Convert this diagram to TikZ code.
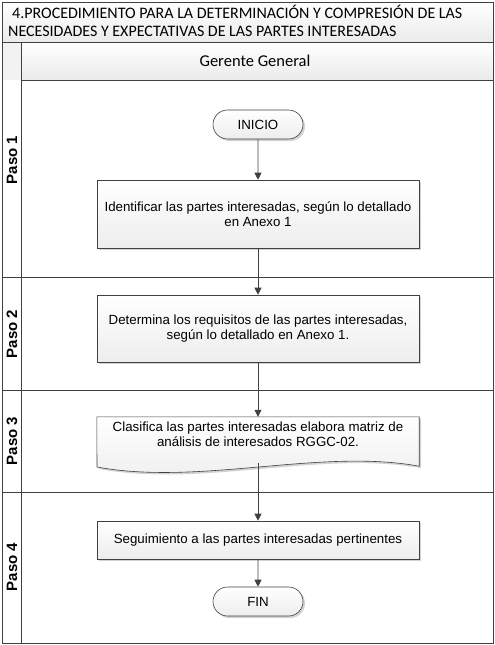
\documentclass[tikz,border=0pt]{standalone}
\usepackage{fontspec}
\setmainfont{Liberation Sans}
\newfontfamily\titlefont{Carlito}
\usetikzlibrary{arrows.meta,shadows,shapes.misc}
\definecolor{linec}{HTML}{404040}
\begin{document}
\begin{tikzpicture}[x=1pt,y=-1pt,
  frame/.style={draw=linec,line width=0.8pt},
  hdrfill/.style={top color=white,bottom color=gray!16},
  procbox/.style={draw=linec,line width=0.6pt,top color=white,bottom color=gray!14,
    minimum width=322pt,align=center,inner sep=2pt,
    font=\fontsize{13.3}{15.5}\selectfont,
    drop shadow={shadow xshift=2pt,shadow yshift=-2pt,opacity=0.35,fill=gray}},
  termbox/.style={draw=linec,line width=0.6pt,rounded rectangle,top color=white,bottom color=gray!14,
    minimum width=94pt,minimum height=29pt,inner sep=2pt,
    font=\fontsize{13.3}{15}\selectfont,
    drop shadow={shadow xshift=2pt,shadow yshift=-2pt,opacity=0.35,fill=gray}},
  flow/.style={draw=linec,line width=0.8pt,-{Triangle[length=7pt,width=7pt]}},
  pasolbl/.style={rotate=90,font=\bfseries\fontsize{15}{15}\selectfont}
]
\useasboundingbox (0,0) rectangle (495,645);
% title and header
\path[hdrfill] (2,2) rectangle (493,42);
\path[hdrfill] (21,42) rectangle (493,80);
\path[fill=gray!10] (2,42) rectangle (21,80);
\node[anchor=north west,align=left,inner sep=0pt,font=\titlefont\fontsize{16}{18}\selectfont] (title) at (8,4.5)
  {\hspace{4pt}4.PROCEDIMIENTO PARA LA DETERMINACIÓN Y COMPRESIÓN DE LAS\\NECESIDADES Y EXPECTATIVAS DE LAS PARTES INTERESADAS};
\node[font=\titlefont\fontsize{16.5}{16.5}\selectfont] (role) at (255,60.5) {Gerente General};
% lanes
\draw[frame] (2,42) -- (493,42);
\draw[frame] (21,42) -- (21,643);
\draw[frame] (21,80) -- (493,80);
\draw[frame] (2,277) -- (493,277);
\draw[frame] (2,390) -- (493,390);
\draw[frame] (2,492) -- (493,492);
\draw[frame] (2,2) rectangle (493,643);
\node[pasolbl] (p1) at (12,160) {Paso 1};
\node[pasolbl] (p2) at (12,334) {Paso 2};
\node[pasolbl] (p3) at (12,441) {Paso 3};
\node[pasolbl] (p4) at (12,567) {Paso 4};
% flow
\node[termbox] (ini) at (258,124.5) {INICIO};
\node[procbox,minimum height=68pt] (b1) at (258,214) {Identificar las partes interesadas, según lo detallado\\en Anexo 1};
\node[procbox,minimum height=67pt] (b2) at (258,328.5) {Determina los requisitos de las partes interesadas,\\según lo detallado en Anexo 1.};
% document shape
\node[minimum width=322pt,minimum height=45pt,inner sep=0pt] (b3) at (258,439.5) {};
\path[draw=linec,line width=0.6pt,top color=white,bottom color=gray!14,
    drop shadow={shadow xshift=2pt,shadow yshift=-2pt,opacity=0.35,fill=gray}]
  (b3.north west) -- (b3.north east) -- ([yshift=-4pt]b3.south east)
  .. controls (320,448) and (200,486) .. (97,467) -- cycle;
\node[align=center,font=\fontsize{13.3}{15.5}\selectfont] (b3t) at (258,434)
  {Clasifica las partes interesadas elabora matriz de\\análisis de interesados RGGC-02.};
\node[procbox,minimum height=38pt] (b4) at (258,540) {Seguimiento a las partes interesadas pertinentes};
\node[termbox] (fin) at (258,601.5) {FIN};
\draw[flow] (ini) -- (b1);
\draw[flow] (b1) -- (b2);
\draw[flow] (b2) -- (b3.north);
\draw[flow] ([yshift=-1pt]b3.south) -- (b4);
\draw[flow] (b4) -- (fin);
\end{tikzpicture}
\end{document}
